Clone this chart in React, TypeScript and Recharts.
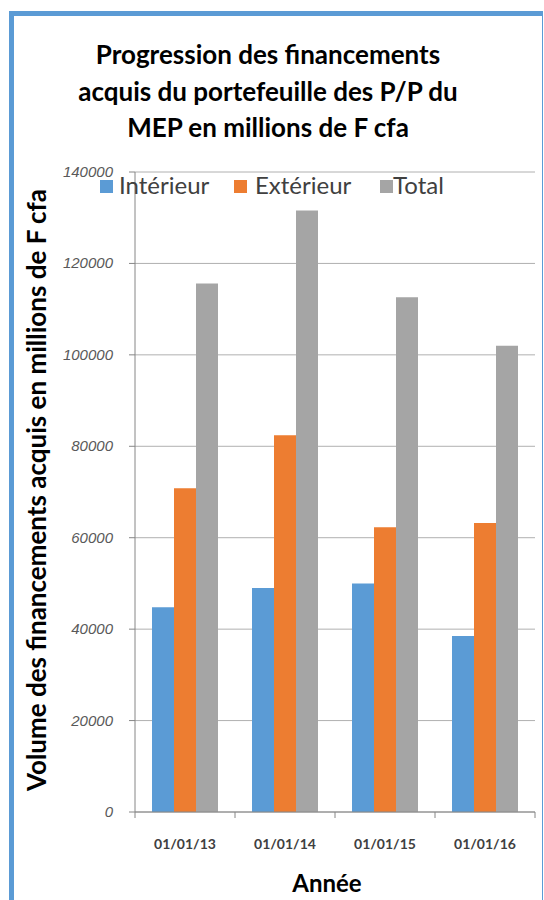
import React from 'react';
import { BarChart, Bar, XAxis, YAxis, CartesianGrid } from 'recharts';

const years = ['01/01/13', '01/01/14', '01/01/15', '01/01/16'];
const interieur = [44800, 49000, 50000, 38500];
const exterieur = [70800, 82400, 62300, 63200];
const total = [115600, 131600, 112600, 102000];
const yTicks = [0, 20000, 40000, 60000, 80000, 100000, 120000, 140000];

const series = [
  { key: 'interieur', name: 'Intérieur', color: '#5b9bd5' },
  { key: 'exterieur', name: 'Extérieur', color: '#ed7d31' },
  { key: 'total', name: 'Total', color: '#a5a5a5' },
];

const data = years.map((year, i) => ({
  year,
  interieur: interieur[i],
  exterieur: exterieur[i],
  total: total[i],
}));

const W = 544;
const H = 900;
const FONT = 'Lato, "Liberation Sans", sans-serif';
const BAND = 100; // plot width / number of categories

const XTick = (props: any) => {
  const { x, payload, index } = props;
  const axisY = 812;
  return (
    <g>
      <line x1={x - BAND / 2} x2={x - BAND / 2} y1={axisY} y2={axisY + 6} stroke="#868686" />
      {index === years.length - 1 && (
        <line x1={x + BAND / 2} x2={x + BAND / 2} y1={axisY} y2={axisY + 6} stroke="#868686" />
      )}
      <text x={x} y={849} textAnchor="middle" fontSize={14} fontWeight="bold" fill="#404040" fontFamily={FONT}>
        {payload.value}
      </text>
    </g>
  );
};

const YTick = (props: any) => {
  const { y, payload } = props;
  return (
    <text
      x={113}
      y={y}
      dy={5}
      textAnchor="end"
      fontSize={15}
      fontStyle="italic"
      fill="#595959"
      fontFamily='"Liberation Sans", sans-serif'
    >
      {payload.value}
    </text>
  );
};

const legendBox = [100, 234, 380];
const legendText = [119, 255, 393];

export default function App() {
  return (
    <div style={{ position: 'absolute', left: 0, top: 0, width: W, height: H, background: '#fff', overflow: 'hidden' }}>
      <div
        style={{
          position: 'absolute',
          left: 9,
          top: 11,
          width: 543 - 9 - 6,
          height: 1000,
          borderLeft: '5px solid #5b9bd5',
          borderTop: '5px solid #5b9bd5',
          borderRight: '1px solid #5b9bd5',
        }}
      />
      <div style={{ position: 'absolute', left: 0, top: 0 }}>
        <BarChart
          width={W}
          height={H}
          data={data}
          margin={{ top: 172, right: 9, left: 75, bottom: 58 }}
          barCategoryGap="17%"
          barGap={0}
        >
          <CartesianGrid vertical={false} stroke="#b0b0b0" />
          <XAxis
            dataKey="year"
            tick={<XTick />}
            tickLine={false}
            axisLine={{ stroke: '#868686' }}
            height={30}
            interval={0}
          />
          <YAxis
            domain={[0, 140000]}
            ticks={yTicks}
            width={60}
            tick={<YTick />}
            tickLine={{ stroke: '#868686' }}
            tickSize={6}
            axisLine={{ stroke: '#868686' }}
          />
          {series.map((s) => (
            <Bar key={s.key} dataKey={s.key} name={s.name} fill={s.color} isAnimationActive={false} />
          ))}
        </BarChart>
      </div>
      <svg width={W} height={H} style={{ position: 'absolute', left: 0, top: 0, pointerEvents: 'none' }}>
        <g fontFamily={FONT} fontWeight="bold" fontSize={26} fill="#000" textAnchor="middle">
          <text x={268} y={64}>Progression des financements</text>
          <text x={268} y={101}>acquis du portefeuille des P/P du</text>
          <text x={268} y={137}>MEP en millions de F cfa</text>
        </g>
        <text
          transform="translate(46, 490) rotate(-90)"
          textAnchor="middle"
          fontFamily={FONT}
          fontWeight="bold"
          fontSize={26}
          fill="#000"
        >
          Volume des financements acquis en millions de F cfa
        </text>
        <text x={327} y={892} textAnchor="middle" fontFamily={FONT} fontWeight="bold" fontSize={24} fill="#000">
          Année
        </text>
        {series.map((s, i) => (
          <g key={s.key}>
            <rect x={legendBox[i]} y={180} width={13} height={13} fill={s.color} />
            <text x={legendText[i]} y={194} fontFamily={FONT} fontSize={24} fill="#404040">
              {s.name}
            </text>
          </g>
        ))}
      </svg>
    </div>
  );
}
